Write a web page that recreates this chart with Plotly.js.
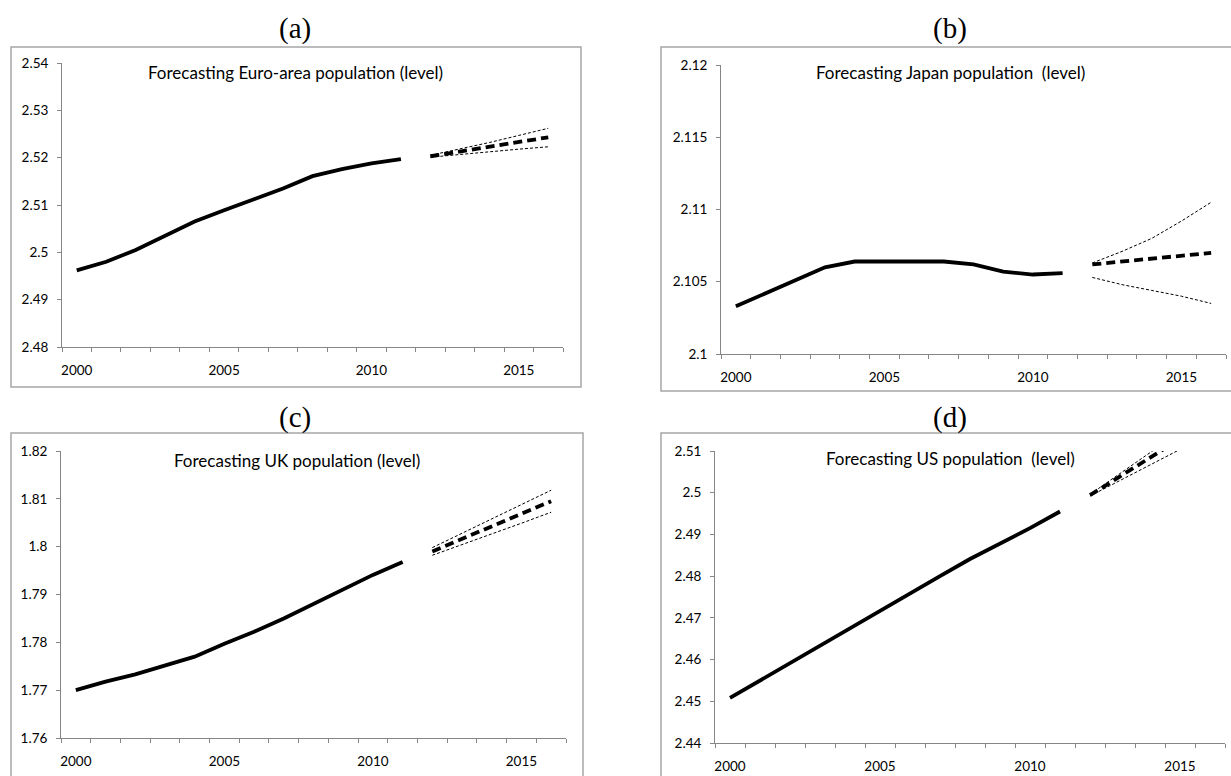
<!DOCTYPE html>
<html>
<head>
<meta charset="utf-8">
<script src="https://cdn.plot.ly/plotly-3.0.1.min.js"></script>
<style>
  html, body { margin: 0; padding: 0; background: #ffffff; }
  #chart { width: 1231px; height: 776px; }
</style>
</head>
<body>
<div id="chart"></div>
<script>
// ---- data -------------------------------------------------------------
const histYears = [2000, 2001, 2002, 2003, 2004, 2005, 2006, 2007, 2008, 2009, 2010, 2011];
const fcYears   = [2012, 2013, 2014, 2015, 2016];

// (a) Euro area
const euroHist  = [2.4962, 2.4980, 2.5005, 2.5035, 2.5065, 2.5089, 2.5111, 2.5135, 2.5161, 2.5176, 2.5188, 2.5197];
const euroMean  = [2.5203, 2.5213, 2.5222, 2.5232, 2.5243];
const euroUpper = [2.5205, 2.5218, 2.5232, 2.5247, 2.5262];
const euroLower = [2.5201, 2.5207, 2.5213, 2.5218, 2.5223];

// (b) Japan
const japanHist  = [2.1033, 2.1042, 2.1051, 2.1060, 2.1064, 2.1064, 2.1064, 2.1064, 2.1062, 2.1057, 2.1055, 2.1056];
const japanMean  = [2.1062, 2.1064, 2.1066, 2.1068, 2.1070];
const japanUpper = [2.1063, 2.1071, 2.1080, 2.1092, 2.1105];
const japanLower = [2.1053, 2.1048, 2.1044, 2.1040, 2.1035];

// (c) UK
const ukHist  = [1.7700, 1.7718, 1.7733, 1.7751, 1.7770, 1.7797, 1.7822, 1.7850, 1.7880, 1.7912, 1.7941, 1.7968];
const ukMean  = [1.7990, 1.8016, 1.8042, 1.8068, 1.8095];
const ukUpper = [1.7998, 1.8028, 1.8058, 1.8088, 1.8118];
const ukLower = [1.7982, 1.8004, 1.8027, 1.8049, 1.8072];

// (d) US
const usHist  = [2.4508, 2.4550, 2.4592, 2.4633, 2.4674, 2.4716, 2.4758, 2.4800, 2.4841, 2.4878, 2.4915, 2.4955];
const usMean  = [2.4994, 2.5039, 2.5084, 2.5129, 2.5174];
const usUpper = [2.4996, 2.5046, 2.5096, 2.5146, 2.5196];
const usLower = [2.4992, 2.5029, 2.5066, 2.5104, 2.5141];

// ---- labels and ticks ------------------------------------------------
const panelLetters = ['(a)', '(b)', '(c)', '(d)'];
const panelTitles = [
  'Forecasting Euro-area population (level)',
  'Forecasting Japan population\u00a0 (level)',
  'Forecasting UK population (level)',
  'Forecasting US population\u00a0 (level)'
];
const xLabelYears = [2000, 2005, 2010, 2015];
const xCellEdges  = [1999.5, 2000.5, 2001.5, 2002.5, 2003.5, 2004.5, 2005.5, 2006.5, 2007.5,
                     2008.5, 2009.5, 2010.5, 2011.5, 2012.5, 2013.5, 2014.5, 2015.5, 2016.5];
const euroTicks  = [2.48, 2.49, 2.5, 2.51, 2.52, 2.53, 2.54];
const japanTicks = [2.1, 2.105, 2.11, 2.115, 2.12];
const ukTicks    = [1.76, 1.77, 1.78, 1.79, 1.8, 1.81, 1.82];
const usTicks    = [2.44, 2.45, 2.46, 2.47, 2.48, 2.49, 2.5, 2.51];

// ---- page geometry (pixels) -----------------------------------------
const W = 1231, H = 776;
const px = v => v / W;
const py = v => 1 - v / H;

const panels = [
  { plot: [62, 563, 63, 347],  frame: [11, 581, 47, 387],   letterX: 295, letterY: 29,  titleX: 295, titleY: 72,
    hist: euroHist, mean: euroMean, upper: euroUpper, lower: euroLower, ticks: euroTicks },
  { plot: [721, 1226, 65, 354], frame: [661, 1233, 47, 391], letterX: 950, letterY: 29,  titleX: 950, titleY: 72,
    hist: japanHist, mean: japanMean, upper: japanUpper, lower: japanLower, ticks: japanTicks },
  { plot: [61, 566, 451, 738], frame: [11, 583, 433, 780],  letterX: 295, letterY: 417, titleX: 297, titleY: 460,
    hist: ukHist, mean: ukMean, upper: ukUpper, lower: ukLower, ticks: ukTicks },
  { plot: [715, 1225, 451, 743], frame: [661, 1233, 433, 780], letterX: 950, letterY: 417, titleX: 951, titleY: 458,
    hist: usHist, mean: usMean, upper: usUpper, lower: usLower, ticks: usTicks }
];

const axisGrey = '#868686';
const sansFamily = 'Lato, "Open Sans", sans-serif';
const tickFont = { family: sansFamily, size: 13.5, color: '#000000' };

const traces = [];
const layout = {
  width: W, height: H,
  margin: { l: 0, r: 0, t: 0, b: 0 },
  paper_bgcolor: '#ffffff',
  plot_bgcolor: 'rgba(0,0,0,0)',
  showlegend: false,
  hovermode: false,
  shapes: [],
  annotations: []
};

panels.forEach((p, i) => {
  const n = i === 0 ? '' : String(i + 1);
  const xa = 'x' + n, ya = 'y' + n;
  const [l, r, t, b] = p.plot;

  layout['xaxis' + n] = {
    domain: [px(l), px(r)],
    anchor: ya,
    range: [1999.5, 2016.5],
    tickmode: 'array',
    tickvals: xLabelYears,
    ticktext: xLabelYears.map(String),
    ticks: '',
    ticklabelstandoff: 11,
    showgrid: false, zeroline: false,
    showline: true, linecolor: axisGrey, linewidth: 1,
    tickfont: tickFont,
    minor: { tickmode: 'array', tickvals: xCellEdges, ticks: 'outside', ticklen: 4,
             tickwidth: 1, tickcolor: axisGrey, showgrid: false }
  };
  layout['yaxis' + n] = {
    domain: [py(b), py(t)],
    anchor: xa,
    range: [p.ticks[0], p.ticks[p.ticks.length - 1]],
    tickmode: 'array',
    tickvals: p.ticks,
    ticktext: p.ticks.map(v => String(v)),
    ticks: 'outside', ticklen: 4, tickwidth: 1, tickcolor: axisGrey,
    ticklabelstandoff: 6,
    showgrid: false, zeroline: false,
    showline: true, linecolor: axisGrey, linewidth: 1,
    tickfont: tickFont
  };

  // history, confidence bounds, central forecast
  traces.push({ x: histYears, y: p.hist, xaxis: xa, yaxis: ya, type: 'scatter', mode: 'lines',
                line: { color: '#000000', width: 3.8 } });
  traces.push({ x: fcYears, y: p.upper, xaxis: xa, yaxis: ya, type: 'scatter', mode: 'lines',
                line: { color: '#000000', width: 1, dash: '3px,2px' } });
  traces.push({ x: fcYears, y: p.lower, xaxis: xa, yaxis: ya, type: 'scatter', mode: 'lines',
                line: { color: '#000000', width: 1, dash: '3px,2px' } });
  traces.push({ x: fcYears, y: p.mean, xaxis: xa, yaxis: ya, type: 'scatter', mode: 'lines',
                line: { color: '#000000', width: 3.8, dash: '9px,5px' } });

  // chart frame
  const [fl, fr, ft, fb] = p.frame;
  layout.shapes.push({ type: 'rect', xref: 'paper', yref: 'paper',
    x0: px(fl), x1: px(fr), y0: py(fb), y1: py(ft),
    line: { color: '#a6a6a6', width: 1.5 }, fillcolor: 'rgba(0,0,0,0)', layer: 'below' });

  // panel letter above the frame
  layout.annotations.push({ xref: 'paper', yref: 'paper',
    x: px(p.letterX), y: py(p.letterY),
    xanchor: 'center', yanchor: 'middle', showarrow: false,
    text: panelLetters[i],
    font: { family: '"Liberation Serif", "Times New Roman", serif', size: 29, color: '#000000' } });

  // chart title inside the plot
  layout.annotations.push({ xref: 'paper', yref: 'paper',
    x: px(p.titleX), y: py(p.titleY),
    xanchor: 'center', yanchor: 'middle', showarrow: false,
    text: panelTitles[i],
    font: { family: sansFamily, size: 17, color: '#000000' } });
});

Plotly.newPlot('chart', traces, layout, { staticPlot: true, displayModeBar: false });
</script>
</body>
</html>
